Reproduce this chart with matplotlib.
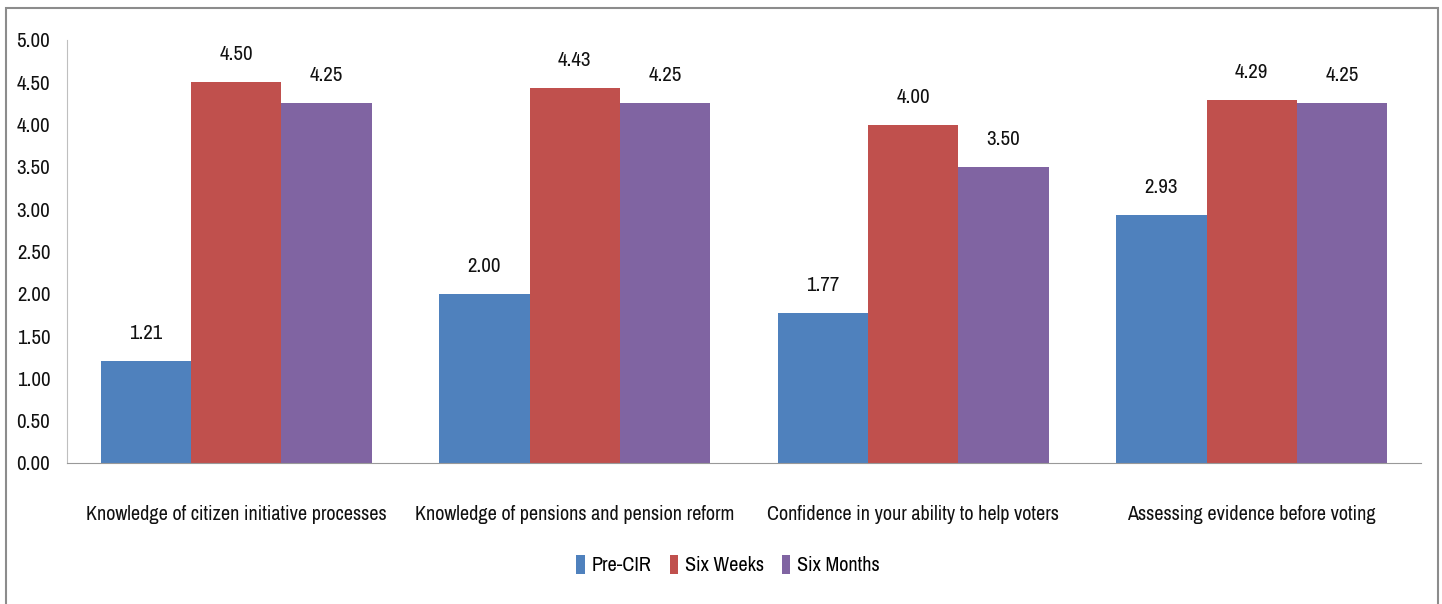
import matplotlib.pyplot as plt
import numpy as np

categories = [
    "Knowledge of citizen initiative processes",
    "Knowledge of pensions and pension reform",
    "Confidence in your ability to help voters",
    "Assessing evidence before voting",
]
pre_cir = [1.21, 2.00, 1.77, 2.93]
six_weeks = [4.50, 4.43, 4.00, 4.29]
six_months = [4.25, 4.25, 3.50, 4.25]
series_names = ["Pre-CIR", "Six Weeks", "Six Months"]
colors = ["#4F81BD", "#C0504D", "#8064A2"]

plt.rcParams["font.family"] = ["Archivo Narrow", "DejaVu Sans"]

fig = plt.figure(figsize=(14.42, 6.04), dpi=100)
ax = fig.add_axes([67 / 1442, 1 - 463 / 604, (1421 - 67) / 1442, (463 - 40) / 604])

# outer frame like the Excel chart area
fig.patches.append(plt.Rectangle((6 / 1442, -0.01), (1438 - 6) / 1442, 1 - 8 / 604 + 0.01,
                                 transform=fig.transFigure, fill=False,
                                 edgecolor="#8c8c8c", linewidth=1.5))

x = np.arange(len(categories))
w = 0.8 / 3
for k, (vals, name, c) in enumerate(zip([pre_cir, six_weeks, six_months], series_names, colors)):
    bars = ax.bar(x + (k - 1) * w, vals, width=w, color=c, label=name)
    for b, v in zip(bars, vals):
        ax.annotate(f"{v:.2f}", (b.get_x() + b.get_width() / 2, v),
                    xytext=(0, 13), textcoords="offset points",
                    ha="center", va="bottom", fontsize=15, color="#111111")

ax.set_xlim(-0.5, 3.5)
ax.set_ylim(0, 5)
ax.set_yticks(np.arange(0, 5.01, 0.5))
ax.set_yticklabels([f"{t:.2f}" for t in np.arange(0, 5.01, 0.5)])
ax.set_xticks(x)
ax.set_xticklabels(categories)
ax.tick_params(axis="both", length=0, labelsize=15, colors="#111111")
ax.tick_params(axis="x", pad=30, labelsize=14.5)
ax.tick_params(axis="y", pad=12)
for s in ["top", "right"]:
    ax.spines[s].set_visible(False)
ax.spines["left"].set_color("#bfbfbf")
ax.spines["bottom"].set_color("#999999")

ax.legend(loc="center", bbox_to_anchor=(728 / 1442, 1 - 565 / 604), bbox_transform=fig.transFigure,
          ncol=3, frameon=False, fontsize=14.5, handlelength=0.4, handleheight=1.1,
          handletextpad=0.35, columnspacing=0.9)

fig.savefig("out.png", dpi=100)
